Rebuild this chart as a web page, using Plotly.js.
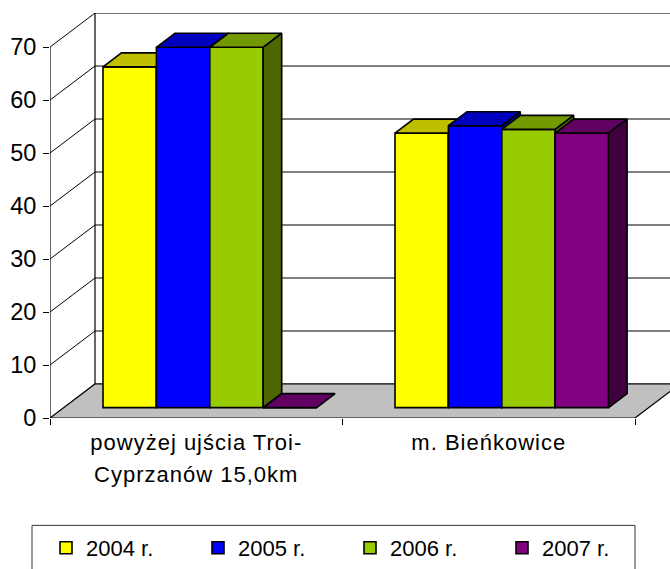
<!DOCTYPE html>
<html><head><meta charset="utf-8">
<script src="https://cdn.plot.ly/plotly-3.0.1.min.js"></script>
<style>html,body{margin:0;padding:0;background:#fff;overflow:hidden}</style>
</head><body><div id="chart" style="width:670px;height:569px"></div>
<script>
const categories = ['powyżej ujścia Troi-<br>Cyprzanów 15,0km', 'm. Bieńkowice'];
const seriesNames = ['2004 r.', '2005 r.', '2006 r.', '2007 r.'];
const values2004 = [64.3, 51.8];
const values2005 = [68.0, 53.2];
const values2006 = [68.0, 52.5];
const values2007 = [0, 51.8];
const yTicks = [0, 10, 20, 30, 40, 50, 60, 70];
const frontColors = ['#FFFF00', '#0000FF', '#99CC00', '#800080'];
const topColors = ['#BFBF00', '#0000BF', '#739900', '#600060'];
const sideColors = ['#7F7F00', '#00007F', '#4D6600', '#400040'];

const W = 670, H = 569, L = 50, T = 13, B = 417.7;
const catPx = 292.5, unitPx = 5.295;
const xMax = (W - L) / catPx, yMax = (B - T) / unitPx;
const wallDX = 45 / catPx, wallDY = 34 / unitPx;
const barDX = 18.5 / catPx, barDY = 14 / unitPx;
const barBase = 10.4 / unitPx;
const barW = 53.4 / catPx;
const groupStart = [53.0 / catPx, 345 / catPx];
const allValues = [values2004, values2005, values2006, values2007];
const black = '#000';

function poly(xs, ys, fill, axes) {
  return Object.assign({type:'scatter', mode:'lines', x:xs, y:ys, fill:'toself', fillcolor:fill,
    line:{color:black, width:1.6}, hoverinfo:'skip', showlegend:false}, axes || {});
}
function line(xs, ys, w) {
  return {type:'scatter', mode:'lines', x:xs, y:ys, line:{color:black, width:w||1}, hoverinfo:'skip', showlegend:false};
}

const traces = [];
// walls, gridlines and floor
traces.push(Object.assign(poly([0, 2, 2 + wallDX, wallDX, 0], [0, 0, wallDY, wallDY, 0], '#C0C0C0'), {line:{color:black, width:1.2}}));
yTicks.forEach(v => {
  if (v > 0) traces.push(line([0, wallDX, xMax], [v, v + wallDY, v + wallDY]));
});
traces.push(line([0, 0], [0, 70], 1.2));
traces.push(line([wallDX, wallDX], [wallDY, 70 + wallDY], 1.2));

// one overlaid pair of axes per series keeps the painter's order of the boxes
allValues.forEach((vals, i) => {
  const n = String(i + 2);
  const axes = {xaxis:'x' + n, yaxis:'y' + n};
  traces.push(Object.assign({type:'bar', name:seriesNames[i],
    x:groupStart, y:vals, base:vals.map(() => barBase),
    width:barW, offset:i * barW,
    marker:{color:frontColors[i], line:{color:black, width:1.6}}, hoverinfo:'x+y'}, axes));
  groupStart.forEach((g, k) => {
    const x0 = g + i * barW, x1 = x0 + barW, v = vals[k] + barBase;
    traces.push(poly([x0, x0 + barDX, x1 + barDX, x1, x0], [v, v + barDY, v + barDY, v, v], topColors[i], axes));
    if (vals[k] > 0) traces.push(poly([x1, x1 + barDX, x1 + barDX, x1, x1],
      [v, v + barDY, barBase + barDY, barBase, v], sideColors[i], axes));
  });
});

const layout = {
  width:W, height:H, margin:{l:L, r:0, t:T, b:H - B, pad:0},
  paper_bgcolor:'#fff', plot_bgcolor:'rgba(0,0,0,0)',
  font:{family:'"Liberation Sans", Arial, sans-serif', color:'#000', size:22},
  barmode:'overlay', showlegend:true,
  legend:{orientation:'h', x:(46 - L) / (W - L), xanchor:'left', y:(B - 527) / (B - T), yanchor:'top',
    entrywidth:107, entrywidthmode:'pixels', font:{size:22}, bgcolor:'rgba(0,0,0,0)', borderwidth:0, traceorder:'normal'},
  xaxis:{range:[0, xMax], showgrid:false, zeroline:false, showline:false, ticks:'',
    tickmode:'array', tickvals:[0.5, 1.5],
    ticktext:categories.map(c => '<span style="font-size:22px;letter-spacing:1px">' + c.replace('<br>', '</span><br><span style="font-size:22px;letter-spacing:1px">') + '</span>'),
    tickfont:{size:24.6}, tickangle:0, ticklabelstandoff:6,
    minor:{tickmode:'array', tickvals:[0, 1, 2], ticks:'outside', ticklen:6, tickcolor:black, tickwidth:1, showgrid:false}},
  yaxis:{range:[0, yMax], showgrid:false, zeroline:false, showline:false, ticks:'outside', ticklen:6, tickcolor:black,
    tickmode:'array', tickvals:yTicks, tickfont:{size:23.5}, ticklabelstandoff:2},
  shapes:[{type:'rect', xref:'paper', yref:'paper', layer:'below',
    x0:(32 - L) / (W - L), x1:(635 - L) / (W - L), y0:(B - 569.5) / (B - T), y1:(B - 525) / (B - T),
    line:{color:'#333', width:1}, fillcolor:'rgba(0,0,0,0)'}]
};
[2, 3, 4, 5].forEach(i => {
  layout['xaxis' + i] = {overlaying:'x', range:[0, xMax], visible:false};
  layout['yaxis' + i] = {overlaying:'y', range:[0, yMax], visible:false};
});
Plotly.newPlot('chart', traces, layout, {displayModeBar:false, staticPlot:true});
</script></body></html>
